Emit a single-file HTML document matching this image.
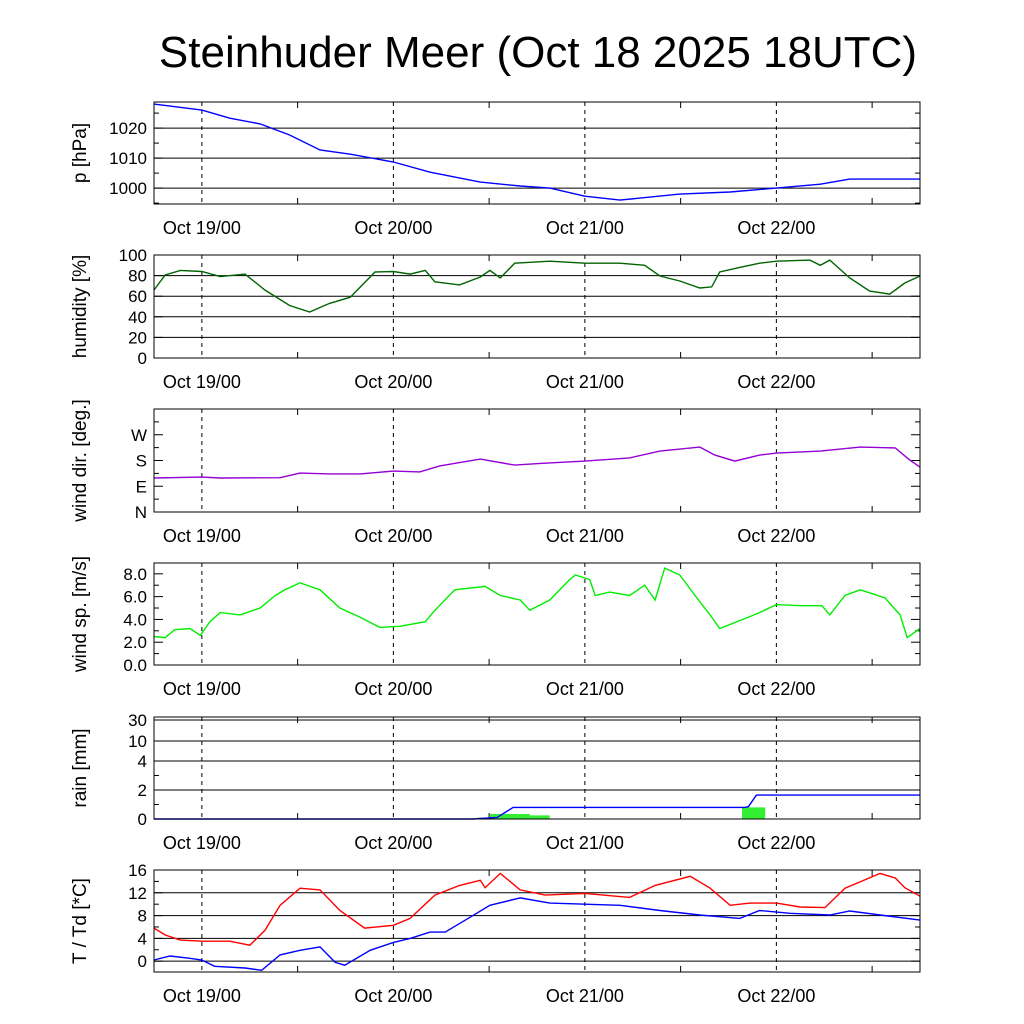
<!DOCTYPE html>
<html><head><meta charset="utf-8"><style>
html,body{margin:0;padding:0;background:#fff;}
svg{display:block;font-family:"Liberation Sans",sans-serif;}
</style></head><body>
<svg id="chart" width="1024" height="1024" viewBox="0 0 1024 1024">
<rect width="1024" height="1024" fill="#fff"/>
<text x="538" y="67" font-size="44" text-anchor="middle">Steinhuder Meer (Oct 18 2025 18UTC)</text>
<g id="plots"></g>
</svg>
<script>
const dayLabels = ["Oct 19/00","Oct 20/00","Oct 21/00","Oct 22/00"];
const dayHours = [6,30,54,78];
const pT = [0,6,9.5,13.3,17,20.8,24.6,30,34.6,40.9,45.9,49.6,54,58.4,65.9,72.2,78,83.5,87.2,96];
const pV = [1028,1026,1023.3,1021.4,1017.7,1012.7,1011.3,1008.7,1005.3,1002,1000.7,1000,997.3,996,998,998.7,1000,1001.3,1003,1003];
const hT = [0,1.4,3.3,6,8.3,11.4,13.9,17,19.5,22,24.6,27.7,30,32.1,34,35.2,38.3,40.9,42.1,43.4,45.2,49.6,54,58.4,61.5,63.4,65.9,68.4,69.9,70.9,73.4,75.9,78,82.2,83.5,84.7,87.2,89.7,92.2,94.1,96];
const hV = [66,80.6,85,84,79,81.5,66,51,44.7,53,59,83.5,84,81.5,85,74,71,78.6,85,77.7,92,94,92,92,90,79.6,74.8,68,69,83.5,88,92,94,95,90,95,77.7,65,62,72.8,79.6];
const dT = [0,6,8.3,15.8,18.3,22,25.8,30,33.3,35.8,40.9,45.2,48.4,54,59.6,63.4,68.4,70.3,72.8,75.9,78,83.5,88.5,92.9,94.7,96];
const dV = [119,122,119,120,136,133,133,143,140,161,185,164,170,178,189,213,227,199,178,199,206,213,227,224,182,157];
const sT = [0,1.4,2.6,4.5,5.8,7,8.3,10.8,13.3,15.2,16.4,18.3,20.8,23.3,25.8,28.3,30.8,34,35.2,37.7,41.5,43.4,45.9,47.1,49.6,52.1,52.8,54.6,55.3,57.1,59.6,61.5,62.8,64,65.9,67.8,69.7,70.9,73.4,75.9,78,81,83.7,84.7,86.6,88.5,91.6,93.5,94.4,96];
const sV = [2.5,2.4,3.1,3.2,2.6,3.8,4.6,4.4,5.0,6.1,6.6,7.2,6.6,5.0,4.2,3.3,3.4,3.8,4.8,6.6,6.9,6.1,5.7,4.8,5.7,7.5,7.9,7.5,6.1,6.4,6.1,7.0,5.7,8.5,7.9,6.1,4.4,3.2,3.9,4.6,5.3,5.2,5.2,4.4,6.1,6.6,5.9,4.4,2.4,3.2];
const rainCumT = [0,40,43,45,74,74.5,75.5,96];
const rainCumV = [0,0,0.1,0.8,0.8,0.85,1.65,1.65];
const rainBarStart = [40.6,42.1,47.1,73.7];
const rainBarEnd = [42.1,47.1,49.6,76.6];
const rainBarV = [0.1,0.35,0.25,0.8];
const tT = [0,1.4,3.3,6,9.5,12,13.9,15.8,18.3,20.8,23.3,26.4,30,32.1,35.2,38.3,40.9,41.5,43.4,45.9,49,54,59.6,62.8,67.2,69.7,72.2,74.7,78,81,84.1,86.6,91,92.9,94.1,96];
const tV = [5.8,4.6,3.7,3.5,3.5,2.8,5.4,9.8,12.8,12.5,8.9,5.8,6.3,7.5,11.6,13.3,14.2,12.9,15.4,12.5,11.6,11.9,11.2,13.3,14.9,12.8,9.8,10.2,10.2,9.5,9.4,12.8,15.4,14.6,12.9,11.4];
const tdT = [0,2,4.5,6,7.6,11.4,13.5,15.8,18.3,20.8,22.7,23.9,27.1,30,32.1,34.6,36.5,39.6,42.1,45.9,49.6,54,58.4,63.4,68.4,73.4,75.9,79.7,84.7,87.2,91,96];
const tdV = [0.2,0.9,0.5,0.2,-0.9,-1.2,-1.6,1.1,1.9,2.5,-0.2,-0.7,1.9,3.3,4.0,5.1,5.1,7.7,9.8,11.1,10.2,10,9.8,8.9,8.1,7.5,8.9,8.4,8.1,8.8,8.1,7.2];

const NS='http://www.w3.org/2000/svg';
const root=document.getElementById('plots');
const X0=154,X1=920,HMAX=96;
const xs=h=>X0+(X1-X0)*h/HMAX;
function mk(tag,attrs,parent){const e=document.createElementNS(NS,tag);for(const k in attrs)e.setAttribute(k,attrs[k]);(parent||root).appendChild(e);return e;}

const panels=[
 {name:'pressure',top:102,bot:204,title:'p [hPa]',min:994.7,max:1028.7,ticks:[1000,1010,1020],labels:['1000','1010','1020'],grid:[1000,1010,1020],minor:[995,1005,1015,1025]},
 {name:'humidity',top:255,bot:358,title:'humidity [%]',min:0,max:100,ticks:[0,20,40,60,80,100],labels:['0','20','40','60','80','100'],grid:[20,40,60,80],minor:[]},
 {name:'wind-direction',top:409,bot:512,title:'wind dir. [deg.]',min:0,max:360,ticks:[0,90,180,270],labels:['N','E','S','W'],grid:[],minor:[45,135,225,315,360]},
 {name:'wind-speed',top:563,bot:665,title:'wind sp. [m/s]',min:0,max:8.95,ticks:[0,2,4,6,8],labels:['0.0','2.0','4.0','6.0','8.0'],grid:[],minor:[1,3,5,7]},
 {name:'rain',top:717,bot:819,title:'rain [mm]',rain:true,ticks:[0,2,4,10,30],labels:['0','2','4','10','30'],grid:[2,4,10,30],minor:[1,3]},
 {name:'temperature',top:870,bot:972,title:'T / Td [*C]',min:-1.9,max:16,ticks:[0,4,8,12,16],labels:['0','4','8','12','16'],grid:[0,4,8,12],minor:[2,6,10,14]}
];
const rainVals=[0,2,4,10,30], rainYs=[819,790,761,741,720];
function rainY(v){for(let i=0;i<rainVals.length-1;i++){if(v<=rainVals[i+1]){return rainYs[i]+(rainYs[i+1]-rainYs[i])*(v-rainVals[i])/(rainVals[i+1]-rainVals[i]);}}return rainYs[rainYs.length-1];}

panels.forEach(p=>{
 const g=mk('g',{});
 
 
 p.y = p.rain ? rainY : (v=>p.bot-(p.bot-p.top)*(v-p.min)/(p.max-p.min));
 p.g=g;
 p.grid.forEach(v=>{const l=mk('line',{x1:X0,x2:X1,y1:p.y(v),y2:p.y(v),stroke:'#000','stroke-width':1},g);
  });
 dayHours.forEach((h,i)=>{const l=mk('line',{x1:xs(h),x2:xs(h),y1:p.top,y2:p.bot,stroke:'#000','stroke-width':1,'stroke-dasharray':'4,4'},g);
  
  const t=mk('text',{x:xs(h),y:p.bot+30,'font-size':18,'text-anchor':'middle'},g);t.textContent=dayLabels[i];
  });
 [18,42,66,90].forEach(h=>{mk('line',{x1:xs(h),x2:xs(h),y1:p.top,y2:p.top+6,stroke:'#000'},g);mk('line',{x1:xs(h),x2:xs(h),y1:p.bot,y2:p.bot-6,stroke:'#000'},g);});
 p.ticks.forEach((v,i)=>{const y=p.y(v);
  mk('line',{x1:X0,x2:X0+9,y1:y,y2:y,stroke:'#000'},g);mk('line',{x1:X1,x2:X1-9,y1:y,y2:y,stroke:'#000'},g);
  const t=mk('text',{x:147,y:y+6,'font-size':17,'text-anchor':'end'},g);t.textContent=p.labels[i];
  });
 p.minor.forEach(v=>{const y=p.y(v);mk('line',{x1:X0,x2:X0+5,y1:y,y2:y,stroke:'#000'},g);mk('line',{x1:X1,x2:X1-5,y1:y,y2:y,stroke:'#000'},g);});
 const cy=(p.top+p.bot)/2;
 const tt=mk('text',{x:0,y:0,'font-size':19,'text-anchor':'middle',transform:`translate(86,${cy}) rotate(-90)`},g);tt.textContent=p.title;
 
});
function line(p,T,V,color,name){const d=T.map((t,i)=>(i?'L':'M')+xs(t).toFixed(1)+','+p.y(V[i]).toFixed(1)).join('');
 const e=mk('path',{d:d,fill:'none',stroke:color,'stroke-width':1.4},p.g);
 }
line(panels[0],pT,pV,'#0000ff','pressure-line');
line(panels[1],hT,hV,'#006400','humidity-line');
line(panels[2],dT,dV,'#9400d3','wind-direction-line');
line(panels[3],sT,sV,'#00ee00','wind-speed-line');
rainBarV.forEach((v,i)=>{const r=mk('rect',{x:xs(rainBarStart[i]),y:rainY(v),width:xs(rainBarEnd[i])-xs(rainBarStart[i]),height:819-rainY(v),fill:'#33ee33'},panels[4].g);
 });
line(panels[4],rainCumT,rainCumV,'#0000ff','rain-cumulative-line');
line(panels[5],tT,tV,'#ff0000','temperature-line');
line(panels[5],tdT,tdV,'#0000ff','dewpoint-line');
panels.forEach(p=>{const r=mk('rect',{x:X0,y:p.top,width:X1-X0,height:p.bot-p.top,fill:'none',stroke:'#000','stroke-width':1},p.g);
 });
</script>
</body></html>
